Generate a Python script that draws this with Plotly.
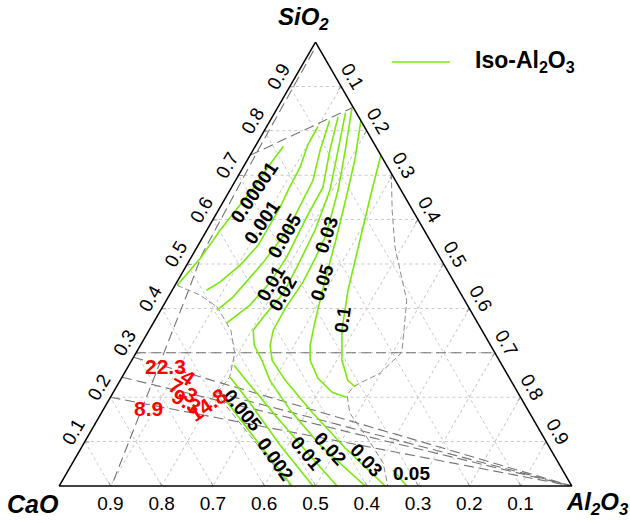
import plotly.graph_objects as go

# ---- data (mole fractions: SiO2 = a, Al2O3 = c, CaO = 1-a-c) ----
iso_values = ["0.00001", "0.001", "0.005", "0.01", "0.02", "0.03", "0.05", "0.1",
              "0.002", "0.005", "0.01", "0.05"]
iso_sio2 = [
    [0.765, 0.718, 0.661, 0.628, 0.576, 0.513, 0.452],
    [0.810, 0.767, 0.718, 0.673, 0.628, 0.587, 0.542, 0.497, 0.459, 0.441],
    [0.823, 0.756, 0.688, 0.621, 0.576, 0.502, 0.425, 0.396],
    [0.832, 0.756, 0.673, 0.605, 0.515, 0.457, 0.407, 0.367],
    [0.841, 0.756, 0.666, 0.576, 0.497, 0.434, 0.385, 0.351, 0.317, 0.283, 0.238, 0.171, 0.092, 0.0],
    [0.850, 0.756, 0.666, 0.565, 0.513, 0.459, 0.400, 0.351, 0.317, 0.283, 0.238, 0.171, 0.0855, 0.0],
    [0.823, 0.733, 0.643, 0.553, 0.463, 0.373, 0.317, 0.283, 0.243, 0.211, 0.200],
    [0.745, 0.666, 0.553, 0.441, 0.351, 0.283, 0.238, 0.223],
    [0.209, 0.103, 0.0],
    [0.245, 0.193, 0.092, 0.0],
    [0.272, 0.227, 0.160, 0.081, 0.0],
    [0.036, 0.0],
]
iso_al2o3 = [
    [0.055, 0.048, 0.042, 0.035, 0.026, 0.019, 0.004],
    [0.100, 0.101, 0.111, 0.113, 0.117, 0.117, 0.117, 0.104, 0.084, 0.067],
    [0.116, 0.131, 0.151, 0.155, 0.157, 0.146, 0.126, 0.110],
    [0.128, 0.150, 0.178, 0.180, 0.186, 0.182, 0.168, 0.143],
    [0.138, 0.166, 0.195, 0.211, 0.217, 0.220, 0.209, 0.203, 0.222, 0.254, 0.292, 0.365, 0.463, 0.597],
    [0.146, 0.180, 0.211, 0.238, 0.243, 0.246, 0.241, 0.242, 0.253, 0.274, 0.322, 0.404, 0.515, 0.636],
    [0.177, 0.210, 0.237, 0.263, 0.287, 0.313, 0.331, 0.348, 0.383, 0.427, 0.460],
    [0.255, 0.277, 0.310, 0.343, 0.376, 0.410, 0.444, 0.466],
    [0.210, 0.333, 0.454],
    [0.211, 0.272, 0.385, 0.495],
    [0.205, 0.259, 0.341, 0.439, 0.542],
    [0.633, 0.678],
]

# phase boundaries (long dash)
bnd_sio2 = [
    [0.745, 0.853],
    [0.300, 0.300],
    [0.980, 0.750, 0.520, 0.441, 0.0],
    [0.290, 0.0],
    [0.245, 0.0],
    [0.200, 0.0],
    [0.211, 0.0],
]
bnd_al2o3 = [
    [0.0, 0.147],
    [0.0, 0.700],
    [0.006, 0.010, 0.018, 0.032, 0.102],
    [0.0, 1.0],
    [0.0, 1.0],
    [0.0, 1.0],
    [0.199, 1.0],
]
# thin dashed boundaries
thin_sio2 = [
    [0.452, 0.430, 0.403, 0.350, 0.299, 0.245, 0.209],
    [0.704, 0.621, 0.538, 0.418, 0.301, 0.279, 0.254, 0.232, 0.223, 0.205, 0.164, 0.110, 0.052, 0.0],
    [0.211, 0.002],
]
thin_al2o3 = [
    [0.004, 0.060, 0.107, 0.160, 0.193, 0.210, 0.203],
    [0.296, 0.339, 0.386, 0.469, 0.518, 0.509, 0.499, 0.471, 0.462, 0.459, 0.485, 0.545, 0.606, 0.641],
    [0.199, 0.449],
]

# contour labels: text, SiO2, Al2O3, angle
lab_text = ["0.00001", "0.001", "0.005", "0.01", "0.02", "0.03", "0.05", "0.1",
            "0.005", "0.002", "0.01", "0.02", "0.03", "0.05"]
lab_sio2 = [0.661, 0.594, 0.565, 0.457, 0.434, 0.565, 0.459, 0.374,
            0.171, 0.059, 0.074, 0.085, 0.058, 0.029]
lab_al2o3 = [0.050, 0.098, 0.157, 0.184, 0.219, 0.238, 0.283, 0.367,
             0.273, 0.392, 0.446, 0.486, 0.571, 0.673]
lab_angle = [-56, -56, -60, -60, -60, -72, -72, -82, 50, 55, 50, 47, 47, 0]

# red labels
red_text = ["22.3", "4", "7.3", "9.3", "14.8", "8.9"]
red_sio2 = [0.270, 0.245, 0.216, 0.191, 0.184, 0.175]
red_al2o3 = [0.072, 0.129, 0.134, 0.154, 0.198, 0.086]
red_angle = [0, 35, 30, 30, -35, 0]

GREEN = "rgb(120,235,10)"
FONT = "Liberation Sans"
fig = go.Figure()

def add_line(a, c, color, width, dash):
    b = [1 - x - y for x, y in zip(a, c)]
    fig.add_trace(go.Scatterternary(a=a, b=b, c=c, mode="lines",
                                    line=dict(color=color, width=width, dash=dash),
                                    showlegend=False, hoverinfo="skip"))

for a, c in zip(bnd_sio2, bnd_al2o3):
    add_line(a, c, "rgb(115,115,115)", 1.1, "10px,5px")
for a, c in zip(thin_sio2, thin_al2o3):
    add_line(a, c, "rgb(140,140,140)", 1, "6px,3px")
for a, c in zip(iso_sio2, iso_al2o3):
    add_line(a, c, GREEN, 1.6, "solid")

def to_paper(a, c):
    return c + a / 2, a

def note(x, y, text, size, color="black", angle=0, xanchor="center"):
    return dict(x=x, y=y, xref="paper", yref="paper", text=text, showarrow=False,
                textangle=angle, xanchor=xanchor, yanchor="middle",
                font=dict(family=FONT, size=size, color=color))

ann = []
for t, a, c, ang in zip(lab_text, lab_sio2, lab_al2o3, lab_angle):
    x, y = to_paper(a, c)
    ann.append(note(x, y, "<b>%s</b>" % t, 19, "black", ang))
for t, a, c, ang in zip(red_text, red_sio2, red_al2o3, red_angle):
    x, y = to_paper(a, c)
    ann.append(note(x, y, "<b>%s</b>" % t, 21, "red", ang))

# axis titles and legend text
ann += [
    note(0.476, 1.054, "<b><i>SiO<sub>2</sub></i></b>", 24),
    note(-0.051, -0.040, "<b><i>CaO</i></b>", 25),
    note(1.049, -0.040, "<b><i>Al<sub>2</sub>O<sub>3</sub></i></b>", 24),
    note(0.807, 0.955, "<b>Iso-Al<sub>2</sub>O<sub>3</sub></b>", 23, xanchor="left"),
]

axis_common = dict(
    tickmode="array", tickvals=[0.1, 0.2, 0.3, 0.4, 0.5, 0.6, 0.7, 0.8, 0.9],
    ticktext=["0.1", "0.2", "0.3", "0.4", "0.5", "0.6", "0.7", "0.8", "0.9"],
    showline=True, linecolor="black", linewidth=1.5,
    showgrid=True, gridcolor="rgb(200,200,200)", gridwidth=1, griddash="dot",
    ticks="inside", ticklen=4, tickcolor="rgb(150,150,150)",
    tickfont=dict(family=FONT, size=19, color="black"),
    title=dict(text=""),
)

fig.update_layout(
    width=630, height=523,
    margin=dict(l=59, r=58, t=42, b=37),
    paper_bgcolor="white", plot_bgcolor="white",
    font=dict(family=FONT, size=19),
    ternary=dict(
        sum=1, bgcolor="white",
        aaxis=dict(axis_common, tickangle=-60),
        baxis=dict(axis_common, tickangle=0),
        caxis=dict(axis_common, tickangle=60),
    ),
    annotations=ann,
    shapes=[dict(type="line", xref="paper", yref="paper", x0=0.649, x1=0.762, y0=0.955, y1=0.955,
                 line=dict(color=GREEN, width=1.6))],
    showlegend=False,
)

fig.write_html("out.html")
